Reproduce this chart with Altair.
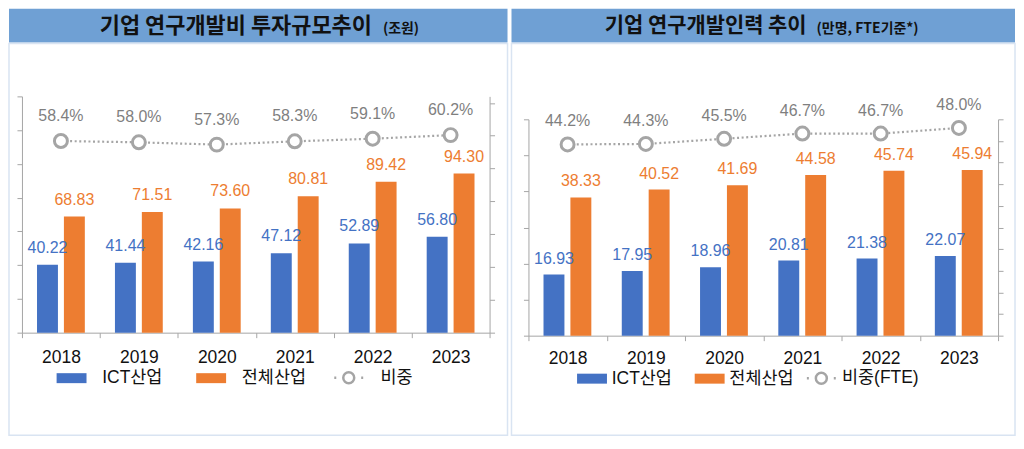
import altair as alt
import pandas as pd

YEARS = ["2018", "2019", "2020", "2021", "2022", "2023"]

# left panel: 기업 연구개발비 (조원)
L_ICT = [40.22, 41.44, 42.16, 47.12, 52.89, 56.80]
L_ALL = [68.83, 71.51, 73.60, 80.81, 89.42, 94.30]
L_RATIO = [58.4, 58.0, 57.3, 58.3, 59.1, 60.2]
L_SERIES = ["ICT산업", "전체산업", "비중"]
L_TITLE = "기업 연구개발비 투자규모추이"
L_SUB = "(조원)"

# right panel: 기업 연구개발인력 (만명, FTE)
R_ICT = [16.93, 17.95, 18.96, 20.81, 21.38, 22.07]
R_ALL = [38.33, 40.52, 41.69, 44.58, 45.74, 45.94]
R_RATIO = [44.2, 44.3, 45.5, 46.7, 46.7, 48.0]
R_SERIES = ["ICT산업", "전체산업", "비중(FTE)"]
R_TITLE = "기업 연구개발인력 추이"
R_SUB = "(만명, FTE기준*)"

FONT = "Liberation Sans, Noto Sans CJK KR, sans-serif"
KFONT = "Noto Sans CJK KR"
BLUE = "#4472c4"
ORANGE = "#ed7d31"
GRAY = "#a5a5a5"
AXIS = "#a6a6a6"
HEAD = "#6fa0d4"
FRAME = "#d9e4f2"
HEAD_H = 34

RECT_PATH = "M-1,-1H5V1H-1Z"
RATIO_PATH = "M-0.9,0H-0.5M4.5,0H4.9M3.1,0A1.1,1.1,0,1,1,0.9,0A1.1,1.1,0,1,1,3.1,0Z"


def panel(ict, allv, ratio, series, title, sub, c):
    bars_df = pd.DataFrame({
        "year": YEARS * 2,
        "series": [series[0]] * len(YEARS) + [series[1]] * len(YEARS),
        "value": ict + allv,
    })
    ratio_df = pd.DataFrame({"year": YEARS, "series": [series[2]] * len(YEARS), "ratio": ratio})
    one = pd.DataFrame({"t": [0]})

    bar_legend = alt.Legend(
        orient="none", legendX=c["lx"], legendY=c["ly"], direction="horizontal", title=None,
        symbolType=RECT_PATH, symbolSize=100, symbolStrokeWidth=0, symbolOpacity=1,
        labelFont=FONT, labelFontSize=17.5, labelColor="#111111", labelOffset=c["loff"],
        columnPadding=c["cpad"], labelLimit=300)
    color = alt.Color("series:N", scale=alt.Scale(domain=series[:2], range=[BLUE, ORANGE]), legend=bar_legend)

    ratio_legend = alt.Legend(
        orient="none", legendX=c["rlx"], legendY=c["ly"], direction="horizontal", title=None,
        symbolType=RATIO_PATH, symbolSize=100, symbolStrokeWidth=2.5, symbolStrokeColor=GRAY,
        symbolOpacity=1,
        labelFont=FONT, labelFontSize=17.5, labelColor="#111111", labelOffset=c["rloff"], labelLimit=300)
    opac = alt.Opacity("series:O", scale=alt.Scale(domain=[series[2]], range=[1, 1]), legend=ratio_legend)

    X = alt.X("year:N", title=None, scale=alt.Scale(paddingInner=0, paddingOuter=0),
              axis=alt.Axis(tickBand="extent", labelAngle=0, labelFont=FONT, labelFontSize=17.5,
                            labelColor="#111111", labelBaseline="alphabetic", labelPadding=c["xlp"],
                            tickSize=5, tickColor=AXIS, domainColor=AXIS, grid=False, title=None))
    XO = alt.XOffset("series:N", scale=alt.Scale(domain=series[:2], paddingInner=0.222, paddingOuter=0.56))
    YB = alt.Y("value:Q", scale=alt.Scale(domain=[0, c["bmax"]], nice=False),
               axis=alt.Axis(orient="left", values=list(range(0, c["bmax"] + 1, c["bstep"])),
                             labels=False, tickSize=5, tickColor=AXIS, domainColor=AXIS,
                             grid=False, title=None))
    YR = alt.Y("ratio:Q", scale=alt.Scale(domain=c["rdom"], nice=False),
               axis=alt.Axis(orient="right", values=c["rvals"], labels=False, tickSize=5,
                             tickColor=AXIS, domainColor=AXIS, grid=False, title=None))

    bars = alt.Chart(bars_df).mark_bar().encode(x=X, xOffset=XO, y=YB, color=color)
    bar_txt = alt.Chart(bars_df).mark_text(font=FONT, fontSize=16, baseline="alphabetic", dy=c["bdy"]).encode(
        x=X, xOffset=XO, y=YB, text=alt.Text("value:Q", format=".2f"), color=color)

    line = alt.Chart(ratio_df).mark_line(strokeDash=[2, 2.6], strokeWidth=2.2, color=GRAY).encode(x=X, y=YR)
    under = alt.Chart(ratio_df).mark_point(shape="circle", size=169, filled=True, color="white",
                                           opacity=1).encode(x=X, y=YR)
    rings = alt.Chart(ratio_df).mark_point(shape="circle", size=169, strokeWidth=3, filled=False,
                                           color=GRAY).encode(x=X, y=YR, opacity=opac)
    pct = alt.Chart(ratio_df).transform_calculate(lbl="format(datum.ratio, '.1f') + '%'").mark_text(
        font=FONT, fontSize=16, color="#7f7f7f", baseline="alphabetic", dy=c["pdy"]).encode(
        x=X, y=YR, text="lbl:N")

    fx0, fx1, fy0, fy1 = c["frame"]
    frame = alt.Chart(one).mark_rect(fillOpacity=0, stroke=FRAME, strokeWidth=1.5).encode(
        x=alt.value(fx0), x2=alt.value(fx1), y=alt.value(fy0), y2=alt.value(fy1))

    main = alt.layer(
        frame,
        alt.layer(bars, bar_txt),
        alt.layer(line, under, rings, pct),
    ).resolve_scale(y="independent").properties(width=c["W"], height=c["H"])

    header_rect = alt.Chart(one).mark_rect(fill=HEAD).encode(
        x=alt.value(fx0), x2=alt.value(fx1), y=alt.value(0), y2=alt.value(HEAD_H))
    ttl = alt.Chart(pd.DataFrame({"t": [title]})).mark_text(
        font=KFONT, fontSize=c["tfs"], fontWeight="bold", align="right", baseline="middle",
        color="#111111").encode(x=alt.value(c["tx"]), y=alt.value(HEAD_H / 2), text="t:N")
    subt = alt.Chart(pd.DataFrame({"t": [sub]})).mark_text(
        font=KFONT, fontSize=14, fontWeight="bold", align="left", baseline="middle",
        color="#111111").encode(x=alt.value(c["sx"]), y=alt.value(HEAD_H / 2 + 3), text="t:N")
    header = alt.layer(header_rect, ttl, subt).properties(width=c["W"], height=HEAD_H)

    return alt.vconcat(header, main, spacing=0)


LC = dict(W=469, H=237, bmax=140, bstep=20, rdom=[0, 72], rvals=list(range(0, 71, 10)),
          frame=(-13, 487, -53, 340), tx=351, sx=362, tfs=22,
          lx=31, ly=361.5, loff=32, cpad=30, rlx=309, rloff=33,
          xlp=25, bdy=-12, pdy=-20)
RC = dict(W=471, H=217, bmax=60, bstep=10, rdom=[0, 50], rvals=list(range(0, 51, 5)),
          frame=(-17, 488, -76, 317), tx=279, sx=289, tfs=21,
          lx=45, ly=362, loff=21, cpad=19, rlx=275, rloff=22,
          xlp=23, bdy=-11, pdy=-18)

left = panel(L_ICT, L_ALL, L_RATIO, L_SERIES, L_TITLE, L_SUB, LC)
right = panel(R_ICT, R_ALL, R_RATIO, R_SERIES, R_TITLE, R_SUB, RC)

chart = alt.hconcat(left, right, spacing=2).resolve_scale(
    color="independent", opacity="independent").properties(padding=0).configure_view(strokeWidth=0)

chart.save("out.html", embed_options={"renderer": "svg", "actions": False})
